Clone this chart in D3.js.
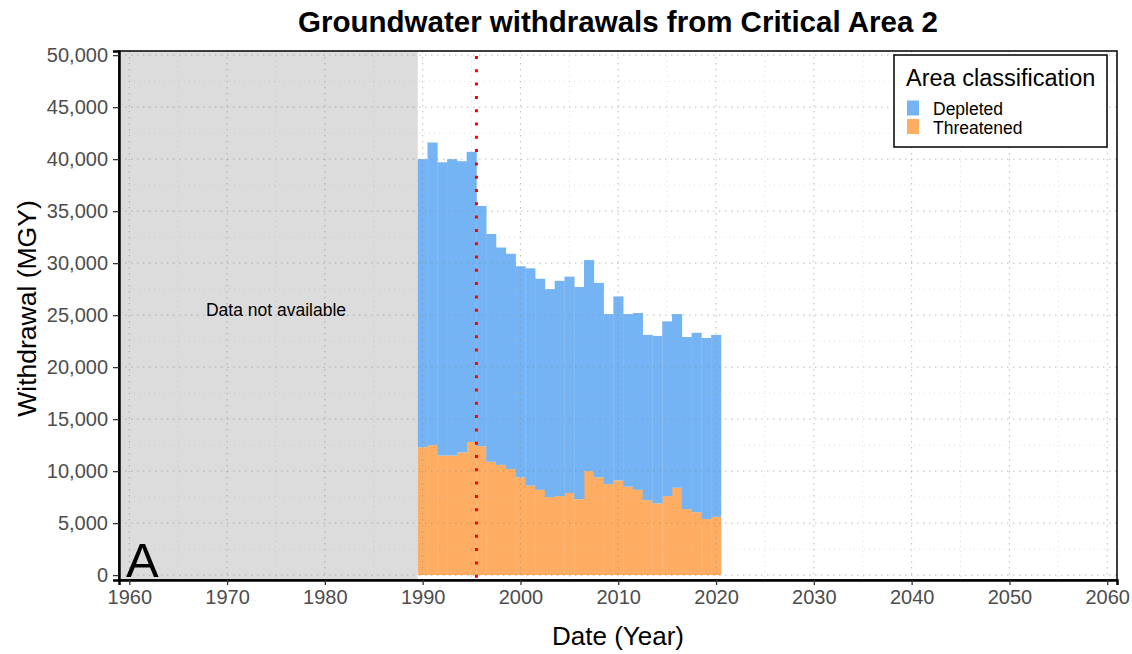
<!DOCTYPE html>
<html>
<head>
  <script src="https://d3js.org/d3.v7.min.js"></script>
  <style>
    body { margin: 0; background: #fff; }
    text { font-family: "Liberation Sans", Arial, sans-serif; }
  </style>
</head>
<body>
  <script>
    const years = d3.range(1990, 2021);
    // withdrawals in MGY
    const threatened = [12300, 12500, 11500, 11500, 11800, 12800, 12400, 10900, 10600, 10200,
      9400, 8600, 8200, 7500, 7600, 7900, 7300, 10000, 9400, 8750,
      9100, 8500, 8200, 7200, 6900, 7600, 8400, 6350, 6050, 5400, 5600];
    const depleted = [27700, 29100, 28200, 28500, 28000, 27900, 23100, 21900, 20900, 20700,
      20300, 20900, 20300, 20000, 20700, 20800, 20400, 20300, 18700, 16350,
      17700, 16600, 17000, 15900, 16100, 16800, 16700, 16550, 17250, 17400, 17500];
    const classes = ["Depleted", "Threatened"];
    const xTicks = d3.range(1960, 2061, 10);
    const yTicks = d3.range(0, 50001, 5000);
    const noDataEnd = 1989.5;
    const markerYear = 1995.5;

    const width = 1132;
    const height = 654;
    const margin = { top: 51, right: 15, bottom: 74, left: 119 };

    const svg = d3.select("body")
      .append("svg")
      .attr("width", width)
      .attr("height", height);

    const x = d3.scaleLinear()
      .domain([1958.95, 2061.0])
      .range([margin.left, width - margin.right]);

    const y = d3.scaleLinear()
      .domain([-470, 50400])
      .range([height - margin.bottom, margin.top]);

    const color = d3.scaleOrdinal()
      .domain(classes)
      .range(["#74b3f4", "#fead62"]);

    const rows = years.map((yr, i) => ({ year: yr, Threatened: threatened[i], Depleted: depleted[i] }));
    const stacked = d3.stack().keys(["Threatened", "Depleted"])(rows);

    const x0 = x.range()[0], x1 = x.range()[1];
    const y0 = y.range()[0], y1 = y.range()[1];

    // grey "no data" region
    svg.append("rect")
      .attr("x", x0)
      .attr("y", y1)
      .attr("width", x(noDataEnd) - x0)
      .attr("height", y0 - y1)
      .attr("fill", "#dcdcdc");

    // bars
    svg.append("g")
      .selectAll("g")
      .data(stacked)
      .join("g")
      .attr("fill", d => color(d.key))
      .selectAll("rect")
      .data(d => d)
      .join("rect")
      .attr("x", d => x(d.data.year - 0.5))
      .attr("width", d => x(d.data.year + 0.5) - x(d.data.year - 0.5) + 0.3)
      .attr("y", d => y(d[1]))
      .attr("height", d => y(d[0]) - y(d[1]));

    // grid (dotted, drawn over the fills)
    const grid = svg.append("g");
    const minorX = d3.range(1965, 2061, 10);
    const minorY = d3.range(2500, 50001, 5000);
    grid.selectAll(".gx")
      .data(xTicks)
      .join("line")
      .attr("x1", d => x(d)).attr("x2", d => x(d))
      .attr("y1", y1).attr("y2", y0)
      .attr("stroke", "#8f8f8f").attr("stroke-opacity", 0.6)
      .attr("stroke-dasharray", "1.5,4.5");
    grid.selectAll(".gy")
      .data(yTicks)
      .join("line")
      .attr("x1", x0).attr("x2", x1)
      .attr("y1", d => y(d)).attr("y2", d => y(d))
      .attr("stroke", "#8f8f8f").attr("stroke-opacity", 0.6)
      .attr("stroke-dasharray", "1.5,4.5");
    grid.selectAll(".mx")
      .data(minorX)
      .join("line")
      .attr("x1", d => x(d)).attr("x2", d => x(d))
      .attr("y1", y1).attr("y2", y0)
      .attr("stroke", "#b0b0b0").attr("stroke-opacity", 0.4)
      .attr("stroke-dasharray", "1,4");
    grid.selectAll(".my")
      .data(minorY)
      .join("line")
      .attr("x1", x0).attr("x2", x1)
      .attr("y1", d => y(d)).attr("y2", d => y(d))
      .attr("stroke", "#b0b0b0").attr("stroke-opacity", 0.4)
      .attr("stroke-dasharray", "1,4");

    // red dotted marker
    svg.append("line")
      .attr("x1", x(markerYear)).attr("x2", x(markerYear))
      .attr("y1", y1 + 5).attr("y2", y0)
      .attr("stroke", "#ff0000")
      .attr("stroke-width", 3)
      .attr("stroke-dasharray", "3,10.3");

    svg.append("text")
      .attr("x", 276)
      .attr("y", y(25000) + 1)
      .attr("text-anchor", "middle")
      .attr("font-size", "17.5px")
      .attr("fill", "#000")
      .text("Data not available");

    svg.append("text")
      .attr("x", x0 + 7)
      .attr("y", y0 - 3)
      .attr("font-size", "49px")
      .attr("fill", "#000")
      .text("A");

    // panel border
    svg.append("rect")
      .attr("x", x0).attr("y", y1)
      .attr("width", x1 - x0).attr("height", y0 - y1)
      .attr("fill", "none")
      .attr("stroke", "#000")
      .attr("stroke-width", 1.5);

    // axes
    const xAxis = svg.append("g")
      .attr("transform", `translate(0,${y0})`)
      .call(d3.axisBottom(x).tickValues(xTicks).tickFormat(d3.format("d")).tickSize(5).tickPadding(5));
    const yAxis = svg.append("g")
      .attr("transform", `translate(${x0},0)`)
      .call(d3.axisLeft(y).tickValues(yTicks).tickFormat(d3.format(",")).tickSize(6).tickPadding(5));
    [xAxis, yAxis].forEach(g => {
      g.select(".domain").attr("stroke", "#000").attr("stroke-width", 2.5);
      g.selectAll(".tick line").attr("stroke", "#333").attr("stroke-width", 1.3);
      g.selectAll(".tick text")
        .attr("fill", "#4d4d4d")
        .attr("font-size", "20px")
        .attr("font-family", "Liberation Sans, Arial, sans-serif");
    });

    // titles
    svg.append("text")
      .attr("x", 618)
      .attr("y", 32)
      .attr("text-anchor", "middle")
      .attr("font-weight", "bold")
      .attr("font-size", "29.5px")
      .text("Groundwater withdrawals from Critical Area 2");

    svg.append("text")
      .attr("x", 618)
      .attr("y", 645)
      .attr("text-anchor", "middle")
      .attr("font-size", "26px")
      .text("Date (Year)");

    svg.append("text")
      .attr("transform", `translate(36,${(y0 + y1) / 2 - 7}) rotate(-90)`)
      .attr("text-anchor", "middle")
      .attr("font-size", "26.5px")
      .text("Withdrawal (MGY)");

    // legend
    const legend = svg.append("g")
      .attr("transform", "translate(894,55)");
    legend.append("rect")
      .attr("width", 213).attr("height", 92)
      .attr("fill", "#fff")
      .attr("stroke", "#000")
      .attr("stroke-width", 1.5);
    legend.append("text")
      .attr("x", 12).attr("y", 31)
      .attr("font-size", "23.5px")
      .text("Area classification");
    const items = legend.selectAll(".legend-item")
      .data(classes)
      .join("g")
      .attr("class", "legend-item")
      .attr("transform", (d, i) => `translate(13,${46 + i * 18.5})`);
    items.append("rect")
      .attr("y", -0.5)
      .attr("width", 12).attr("height", 15)
      .attr("fill", d => color(d));
    items.append("text")
      .attr("x", 26).attr("y", 14)
      .attr("font-size", "17.5px")
      .text(d => d);
  </script>
</body>
</html>
